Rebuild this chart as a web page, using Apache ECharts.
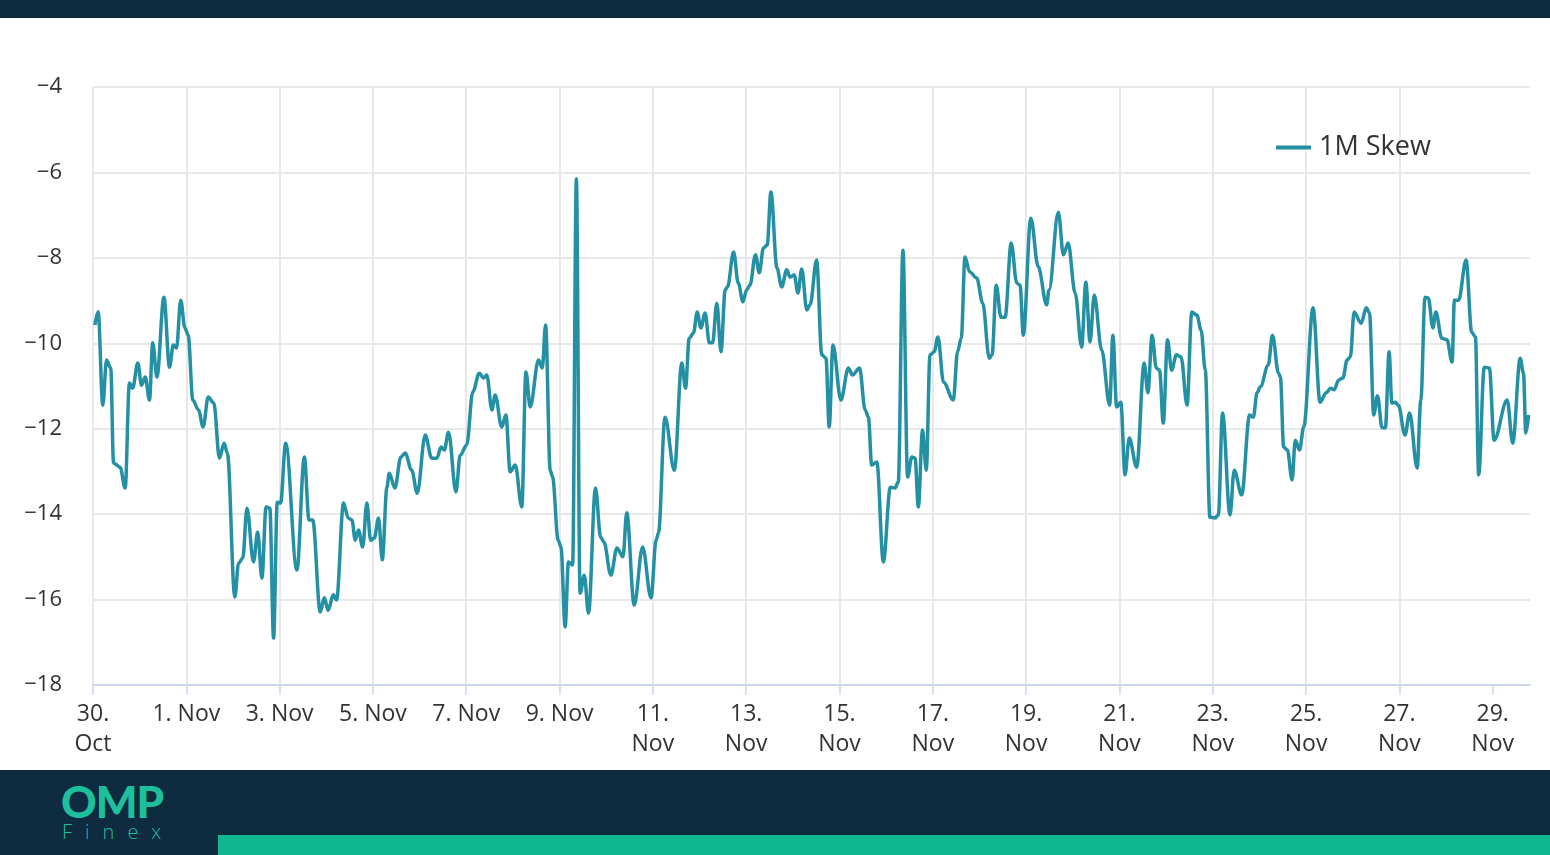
<!DOCTYPE html>
<html>
<head>
<meta charset="utf-8">
<script src="https://cdn.jsdelivr.net/npm/echarts@6/dist/echarts.min.js"></script>
<style>
html,body{margin:0;padding:0;width:1550px;height:855px;overflow:hidden;background:#fff;}
#chart{position:absolute;left:0;top:0;width:1550px;height:855px;}
#topbar{position:absolute;left:0;top:0;width:1550px;height:18px;background:#0f2b40;z-index:2;}
#bottom{position:absolute;left:0;top:770px;width:1550px;height:85px;background:#0f2b40;z-index:2;}
#green{position:absolute;left:218px;top:65px;width:1332px;height:20px;background:#10b592;}
#omp{position:absolute;left:61px;top:10px;font-family:'Lato','Open Sans',sans-serif;font-weight:900;font-size:44px;line-height:43px;color:#1ebf9c;letter-spacing:-1px;}
#finex{position:absolute;left:62px;top:51px;font-family:'Open Sans',sans-serif;font-weight:300;font-size:20px;line-height:22px;color:#1ebf9c;letter-spacing:13px;}
</style>
</head>
<body>
<div id="chart"></div>
<div id="topbar"></div>
<div id="bottom"><div id="omp">OMP</div><div id="finex">Finex</div><div id="green"></div></div>
<script>
// days since 30 Oct 00:00
const dayOffsets = [
0.04,0.11,0.21,0.29,0.38,0.44,0.58,0.69,0.78,0.85,0.96,1.04,1.12,1.21,1.28,1.37,1.52,1.64,1.72,1.79,1.88,1.97,
2.04,2.14,2.26,2.36,2.47,2.59,2.71,2.81,2.88,3.04,3.12,3.21,3.30,3.44,3.53,3.62,3.71,3.79,3.87,3.95,
4.02,4.13,4.37,4.53,4.63,4.71,4.87,4.96,5.04,5.15,5.22,5.37,5.47,5.55,5.62,5.69,5.78,5.87,5.95,
6.03,6.12,6.20,6.30,6.35,6.47,6.60,6.69,6.83,6.95,7.12,7.26,7.37,7.46,7.53,7.62,7.78,7.87,
8.01,8.14,8.28,8.37,8.44,8.55,8.62,8.76,8.85,8.94,9.05,9.19,9.28,9.37,9.55,9.63,9.70,9.80,9.85,9.97,
10.03,10.12,10.19,10.28,10.36,10.44,10.53,10.62,10.77,10.88,10.95,11.10,11.23,11.36,11.44,11.60,11.78,11.96,
12.07,12.12,12.26,12.46,12.62,12.70,12.78,12.87,12.95,13.03,13.12,13.21,13.28,13.37,13.46,13.55,13.60,13.73,13.83,13.93,
14.01,14.08,14.20,14.28,14.37,14.45,14.53,14.66,14.76,14.87,14.94,15.03,15.11,15.19,15.30,15.37,15.51,15.62,15.71,15.78,15.86,
16.03,16.19,16.28,16.43,16.55,16.62,16.69,16.80,16.94,17.09,17.19,17.26,17.36,17.46,17.55,17.62,17.69,17.78,17.86,17.94,
18.03,18.11,18.23,18.44,18.53,18.61,18.69,18.79,18.94,19.07,19.21,19.27,19.36,19.46,19.55,19.68,19.80,19.87,19.94,
20.10,20.26,20.44,20.49,20.69,20.80,20.90,21.05,21.19,21.28,21.37,21.46,21.62,21.79,21.86,21.94,
22.03,22.12,22.21,22.37,22.53,22.61,22.70,22.79,22.86,22.94,23.03,23.12,23.22,23.32,23.45,23.55,23.66,23.75,23.84,23.94,
24.05,24.12,24.21,24.37,24.46,24.62,24.79,24.87,24.95,25.02,25.19,25.28,25.41,25.45,25.52,25.60,25.70,25.77,25.86,25.95,
26.15,26.30,26.43,26.53,26.60,26.70,26.79,26.88,26.95,27.03,27.18,27.29,27.36,27.45,27.53,27.63,27.70,27.78,27.84,27.91,27.98,
28.12,28.22,28.38,28.46,28.55,28.62,28.72,28.78,28.91,29.02,29.13,29.18,29.27,29.43,29.55,29.63,29.70,29.82,29.93,
30.03,30.31,30.43,30.59,30.66,30.71,30.77
];
const skewValues = [
-9.57,-9.26,-11.45,-10.39,-10.58,-12.80,-12.90,-13.39,-10.93,-11.05,-10.46,-10.98,-10.79,-11.33,-9.99,-10.79,-8.92,-10.56,-10.04,-10.11,-8.99,-9.64,
-9.81,-11.33,-11.56,-11.96,-11.26,-11.40,-12.69,-12.34,-12.57,-15.94,-15.15,-15.03,-13.86,-15.12,-14.42,-15.50,-13.83,-13.86,-16.90,-13.72,
-13.74,-12.34,-15.31,-12.66,-14.14,-14.14,-16.29,-15.96,-16.25,-15.89,-16.01,-13.74,-14.09,-14.14,-14.61,-14.37,-14.77,-13.74,-14.61,
-14.56,-14.09,-15.07,-13.37,-13.04,-13.39,-12.66,-12.57,-12.97,-13.51,-12.15,-12.69,-12.69,-12.43,-12.50,-12.08,-13.48,-12.62,
-12.38,-11.14,-10.70,-10.81,-10.74,-11.56,-11.21,-11.96,-11.68,-13.01,-12.85,-13.83,-10.67,-11.49,-10.39,-10.58,-9.57,-12.97,-13.13,-14.61,
-14.77,-16.64,-15.12,-15.19,-6.15,-15.85,-15.43,-16.32,-13.39,-14.54,-14.65,-15.43,-14.79,-15.00,-13.97,-16.13,-14.77,-15.96,
-14.61,-14.44,-11.73,-12.97,-10.46,-11.05,-9.88,-9.76,-9.27,-9.64,-9.29,-9.99,-9.99,-9.06,-10.20,-8.75,-8.68,-7.86,-8.59,-9.03,
-8.75,-8.64,-7.93,-8.35,-7.77,-7.70,-6.46,-8.24,-8.68,-8.28,-8.45,-8.40,-8.82,-8.26,-9.22,-9.10,-8.05,-10.27,-10.35,-11.96,-10.04,
-11.33,-10.58,-10.74,-10.58,-11.56,-11.73,-12.85,-12.78,-15.12,-13.37,-13.39,-13.25,-7.82,-13.13,-12.66,-12.69,-13.83,-12.03,-12.97,-10.27,
-10.20,-9.85,-10.91,-11.33,-10.20,-9.88,-7.98,-8.33,-8.47,-9.06,-10.35,-10.27,-8.64,-9.39,-9.39,-7.65,-8.59,-8.64,-9.81,
-7.07,-8.21,-9.10,-8.75,-6.93,-7.93,-7.65,-8.82,-10.09,-8.57,-9.97,-8.87,-10.16,-11.45,-9.81,-11.49,
-11.38,-13.08,-12.22,-12.90,-10.46,-11.16,-9.81,-10.58,-10.63,-11.87,-9.92,-10.63,-10.27,-10.32,-11.45,-9.27,-9.34,-9.69,-10.63,-14.07,
-14.09,-14.02,-11.63,-14.02,-12.97,-13.55,-11.68,-11.73,-11.16,-11.02,-10.51,-9.81,-10.70,-10.79,-12.43,-12.50,-13.20,-12.27,-12.50,-11.96,
-9.17,-11.38,-11.16,-11.05,-11.09,-10.86,-10.81,-10.39,-10.32,-9.27,-9.53,-9.17,-9.29,-11.68,-11.23,-11.98,-11.98,-10.20,-11.40,-11.38,-11.45,
-12.15,-11.63,-12.92,-11.33,-8.92,-8.94,-9.64,-9.27,-9.88,-9.92,-10.44,-8.99,-8.99,-8.05,-9.74,-9.85,-13.08,-10.56,-10.58,
-12.27,-11.33,-12.34,-10.35,-10.70,-12.10,-11.68
];
const xTickValues = [0,2,4,6,8,10,12,14,16,18,20,22,24,26,28,30];
const xTickLabels = ['30.\nOct','1. Nov','3. Nov','5. Nov','7. Nov','9. Nov','11.\nNov','13.\nNov','15.\nNov','17.\nNov','19.\nNov','21.\nNov','23.\nNov','25.\nNov','27.\nNov','29.\nNov'];
const seriesName = '1M Skew';

const chart = echarts.init(document.getElementById('chart'), null, {renderer:'canvas'});
const data = dayOffsets.map((d,i)=>[d, skewValues[i]]);
chart.setOption({
  backgroundColor:'#ffffff',
  animation:false,
  grid:{left:93,right:20,top:87,bottom:170,containLabel:false},
  legend:{
    data:[{name:seriesName,icon:'rect'}],
    left:1271,top:129,
    itemWidth:35,itemHeight:4,itemGap:10,
    textStyle:{fontFamily:'Open Sans',fontSize:27,color:'#333333',padding:[0,0,0,3]}
  },
  xAxis:{
    type:'value',min:0,max:30.8,interval:2,
    axisLine:{show:true,lineStyle:{color:'#ccd6eb',width:2}},
    axisTick:{show:true,length:10,customValues:xTickValues,lineStyle:{color:'#ccd6eb',width:1.5}},
    splitLine:{show:true,showMaxLine:false,lineStyle:{color:'#e8e8e8',width:2}},
    axisLabel:{
      margin:14,fontFamily:'Open Sans',fontSize:23,color:'#333333',lineHeight:30,
      customValues:xTickValues,
      formatter:function(v){const i=xTickValues.indexOf(Math.round(v));return i>=0?xTickLabels[i]:'';}
    }
  },
  yAxis:{
    type:'value',min:-18,max:-4,interval:2,
    axisLine:{show:false},axisTick:{show:false},
    splitLine:{show:true,lineStyle:{color:'#e8e8e8',width:2}},
    axisLabel:{margin:31,fontFamily:'Open Sans',fontSize:22,color:'#333333',
      formatter:function(v){return String(v).replace('-','\u2212');}}
  },
  series:[{
    name:seriesName,type:'line',data:data,
    showSymbol:false,smooth:0.35,smoothMonotone:'x',
    lineStyle:{color:'#2490a3',width:3.5},
    itemStyle:{color:'#2490a3'}
  }]
});
</script>
</body>
</html>
